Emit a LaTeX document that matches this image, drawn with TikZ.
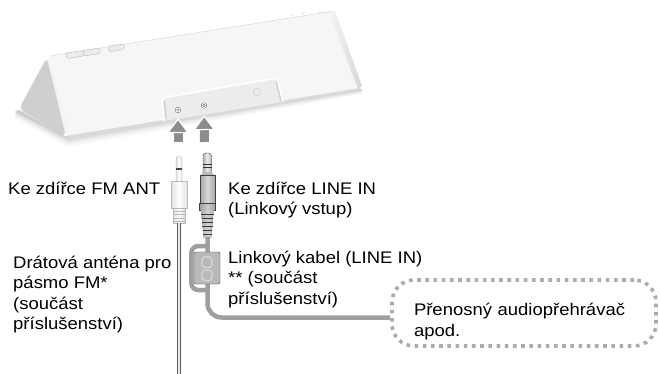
\documentclass[tikz,border=0pt]{standalone}
\usepackage{fontspec}
\setmainfont{Liberation Sans}[FakeStretch=1.1]
\usetikzlibrary{positioning, arrows.meta}

\newcommand{\lblfont}{\fontsize{16.8}{20.5}\selectfont}

\begin{document}
\begin{tikzpicture}[x=1pt, y=-1pt,
    lbl/.style={anchor=north west, inner sep=0pt, align=left, font=\lblfont},
    button/.style={draw=gray!55, fill=gray!15, rounded corners=2.5pt, minimum height=5.5pt, inner sep=0pt, rotate=9},
    jack/.style={circle, draw=gray!65!black, double=white, double distance=0.9pt, fill=gray!30, minimum size=4pt, inner sep=0pt},
    antjack/.style={circle, draw=gray!60, double=gray!8, double distance=1.6pt, fill=white, minimum size=5pt, inner sep=0pt},
    bigarrow/.style={draw=gray!90, line width=9pt, -{Triangle[width=22pt, length=15pt, color=white, fill=gray!90, line width=1.2pt]}},
    fmmetal/.style={draw=gray!60, left color=gray!25, right color=gray!25, middle color=white},
    linmetal/.style={draw=gray!50!black, left color=gray!60, right color=gray!60, middle color=gray!15},
    fmbody/.style={draw=gray!55, left color=gray!22, right color=gray!22, middle color=white, minimum width=16pt, minimum height=27pt, inner sep=0pt},
    fmcollar/.style={draw=gray!55, left color=gray!25, right color=gray!25, middle color=white, minimum width=11.5pt, minimum height=15pt, inner sep=0pt},
    linbody/.style={draw=gray!50!black, left color=gray!70, right color=gray!70, middle color=gray!30, minimum width=15pt, minimum height=28pt, inner sep=0pt},
    linring/.style={draw=gray!50!black, left color=gray!75, right color=gray!75, middle color=gray!40, minimum width=16pt, minimum height=7pt, inner sep=0pt},
    fmwire/.style={draw=gray!70!black, line width=0.6pt, double=gray!15, double distance=2pt},
    cable/.style={draw=gray!75, line width=4.5pt},
    ferrite/.style={draw=gray!55!black, fill=gray!55, rounded corners=2pt, minimum width=26pt, minimum height=32pt, inner sep=0pt},
    player/.style={draw=gray!65, line width=3.6pt, dash pattern=on 3.6pt off 4.6pt, rounded corners=22pt, minimum width=264pt, minimum height=66pt, text width=220pt, align=left, inner sep=0pt, font=\lblfont}]

    \fill[white] (0,0) rectangle (660,374);
    \useasboundingbox (0,0) rectangle (660,374);

    \foreach \d/\c in {10/5, 8/10, 6/17, 4/27, 2/40}
        \fill[gray!\c] (19,110) -- (66,137) -- (361,89) -- (362,{89+0.5*\d}) -- (68,{137+\d}) -- (15,{110+0.8*\d}) -- cycle;
    \fill[gray!7, rounded corners=4pt] (47,57) -- (334,11) -- (361,88) -- (66,137) -- cycle;
    \draw[gray!28, line width=0.6pt] (50,56) -- (334,11);
    \shade[left color=gray!8, right color=gray!32] (329,12) -- (335,11) -- (362,86) -- (358,89) -- cycle;
    \fill[gray!30] (66,136) -- (360,88) -- (361,91) -- (67,140) -- cycle;
    \fill[gray!38, rounded corners=5pt] (47,57) -- (19,109) -- (66,137) -- cycle;
    \draw[gray!10, line width=1.5pt] (48,60) -- (68,134);

    \fill[gray!15, rounded corners=4pt] (164,121) -- (162,98) -- (277,78) -- (283,102) -- cycle;
    \draw[white, line width=1.5pt, rounded corners=4pt] (164,121) -- (162,98) -- (277,78) -- (283,102);
    \draw[gray!35, line width=1.5pt] (166,119) -- (164.5,100);
    \draw[gray!35, line width=1.5pt] (276,81) -- (281,101);

    \node[button, minimum width=18pt] (B1) at (75,54.5) {};
    \node[button, minimum width=17pt] (B2) at (91.7,52) {};
    \node[button, minimum width=16pt] (B3) at (116.5,47.8) {};
    \foreach \p in {(292,15),(303,13.5),(320,12)}
        \fill[gray!60] \p circle (0.7);

    \node[jack] (FMjack) at (178,110) {};
    \node[jack] (LINjack) at (204,105.5) {};
    \node[antjack] (ANTjack) at (257,92) {};

    \coordinate (FMa) at (178,142);
    \coordinate (LINa) at (204.5,142);
    \draw[bigarrow, shorten >=6pt] (FMa) -- (FMjack.south);
    \draw[bigarrow, shorten >=7.5pt] (LINa) -- (LINjack.south);

    \draw[fmmetal, rounded corners=2.5pt] (176,183) rectangle (182,156.5);
    \draw[gray!55!black, line width=1.4pt] (176,169) -- (182,169);
    \node[fmbody] (FMplug) at (179,195) {};
    \node[fmcollar] (FMcollar) at (179,215.5) {};
    \foreach \y in {211,214.5,218,221.5}
        \draw[gray!55] (173.5,\y) -- (184.5,\y);
    \coordinate (FMend) at (179,374);
    \draw[fmwire] (FMcollar.south) -- (FMend);

    \draw[linmetal, rounded corners=3pt] (203,177) rectangle (211.5,153);
    \foreach \y in {164.3,167.7}
        \draw[gray!40!black, line width=1.2pt] (203,\y) -- (211.5,\y);
    \fill[gray!55] (203,172) -- (211.5,172) -- (214.5,176) -- (200.5,176) -- cycle;
    \node[linbody] (LINplug) at (207.5,189.5) {};
    \node[linring] (LINring) at (207.5,206.5) {};
    \shade[left color=gray!65, right color=gray!65, middle color=gray!35] (201,210) -- (214,210) -- (211.5,238) -- (203.5,238) -- cycle;
    \foreach \y in {214,218,...,234} {
        \pgfmathsetmacro\hw{6.5-(\y-210)*2.5/28}
        \draw[gray!45!black] (207.5-\hw,\y) -- (207.5+\hw,\y);
    }
    \coordinate (LINtail) at (207.5,237);

    \node[player] (Player) at (524,313) {\rule{0pt}{32.6pt}Přenosný audiopřehrávač\\apod.\strut};

    \draw[cable, rounded corners=14pt] (LINtail) |- ([yshift=-4.5pt]Player.west);
    \draw[cable, rounded corners=7pt] (207.5,246) -- (191.3,246) -- (191.3,290) -- (207.5,290);
    \node[ferrite] (Core) at (207,268) {};
    \draw[gray!30, line width=1.2pt, rounded corners=3pt] (202,257) rectangle (212,267.5);
    \draw[gray!30, line width=1.2pt, rounded corners=3pt] (202,270) rectangle (212,280.5);

    \node[lbl] (FMlbl) at (8,179.6) {\strut Ke zdířce FM ANT};
    \node[lbl] (LINlbl) at (228,179.6) {\strut Ke zdířce LINE IN\\(Linkový vstup)};
    \node[lbl] (ANTlbl) at (13,253.6) {\strut Drátová anténa pro\\pásmo FM*\\(součást\\příslušenství)};
    \node[lbl] (CABlbl) at (228,248.6) {\strut Linkový kabel (LINE IN)\\** (součást\\příslušenství)};
\end{tikzpicture}
\end{document}
